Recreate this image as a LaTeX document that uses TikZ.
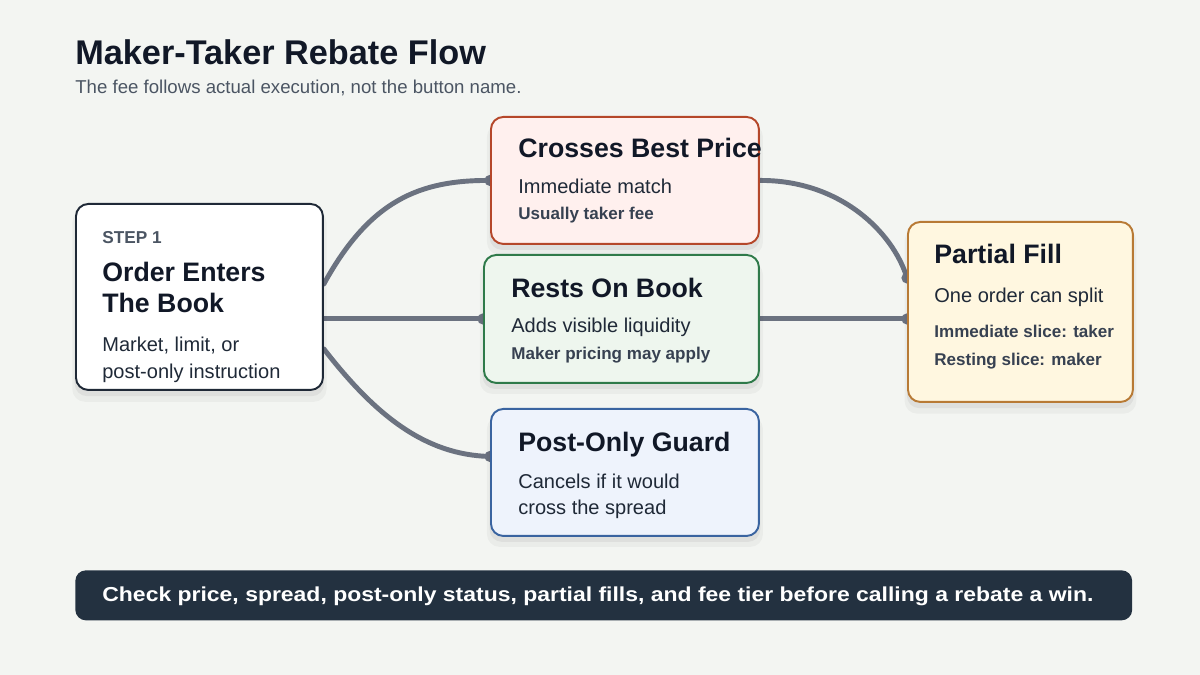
\documentclass[tikz,border=0pt]{standalone}
\usepackage{fontspec}
\setmainfont{Liberation Sans}
\usetikzlibrary{calc,shadows}
\definecolor{bgc}{HTML}{F3F5F2}
\definecolor{ink}{HTML}{111827}
\definecolor{sub}{HTML}{4B5563}
\definecolor{bodyc}{HTML}{1F2937}
\definecolor{smallc}{HTML}{374151}
\definecolor{connc}{HTML}{6B7280}
\definecolor{ordB}{HTML}{1F2937}
\definecolor{crossF}{HTML}{FFF0EE}
\definecolor{crossB}{HTML}{B5472A}
\definecolor{restF}{HTML}{EEF6EE}
\definecolor{restB}{HTML}{2F7A4A}
\definecolor{postF}{HTML}{EEF3FC}
\definecolor{postB}{HTML}{3A64A0}
\definecolor{partF}{HTML}{FFF7E0}
\definecolor{partB}{HTML}{B87A35}
\definecolor{footF}{HTML}{233140}
\pgfdeclarelayer{back}
\pgfdeclarelayer{lines}
\pgfsetlayers{back,lines,main}
\begin{document}
\begin{tikzpicture}[x=0.02cm,y=-0.02cm,
  box/.style={rounded corners=7pt, line width=1.1pt, anchor=north west, inner sep=0pt,
    drop shadow={shadow xshift=0pt, shadow yshift=-5pt, shadow scale=1.03, opacity=0.035, fill=black},
    drop shadow={shadow xshift=0pt, shadow yshift=-3pt, shadow scale=1.01, opacity=0.05, fill=black}},
  conn/.style={draw=connc, line width=2.8pt, line cap=round},
  dot/.style={fill=connc},
  txt/.style={anchor=base west, inner sep=0pt},
  ttl/.style={txt, font=\fontsize{19.5}{23}\selectfont\bfseries, text=ink},
  subt/.style={txt, font=\fontsize{10.6}{13}\selectfont, text=sub},
  head/.style={txt, font=\fontsize{15.2}{18}\selectfont\bfseries, text=ink},
  bodyt/.style={txt, font=\fontsize{11.4}{14}\selectfont, text=bodyc},
  smallt/.style={txt, font=\fontsize{9.7}{12}\selectfont\bfseries, text=smallc},
  stept/.style={txt, font=\fontsize{9.8}{12}\selectfont\bfseries, text=sub},
  foott/.style={txt, font=\fontsize{11.5}{13}\selectfont\bfseries, text=white, xscale=1.136}
]
\begin{pgfonlayer}{back}
\fill[bgc] (0,0) rectangle (1200,675);
\end{pgfonlayer}
\useasboundingbox (0,0) rectangle (1200,675);

% title
\node[ttl] (title) at (75,65) {Maker-Taker Rebate Flow};
\node[subt] (subtitle) at (75,94) {The fee follows actual execution, not the button name.};

% boxes
\node[box, draw=ordB, fill=white, minimum width=4.94cm, minimum height=3.72cm] (order) at (75,203) {};
\node[box, draw=crossB, fill=crossF, minimum width=5.36cm, minimum height=2.54cm] (cross) at (490,116) {};
\node[box, draw=restB, fill=restF, minimum width=5.5cm, minimum height=2.56cm] (rests) at (483,254) {};
\node[box, draw=postB, fill=postF, minimum width=5.36cm, minimum height=2.54cm] (post) at (490,408) {};
\node[box, draw=partB, fill=partF, minimum width=4.5cm, minimum height=3.6cm] (partial) at (907,221) {};

% connectors
\begin{pgfonlayer}{lines}
\draw[conn] ($(order.east)+(0,-13)$) .. controls (370,200) and (420,180) .. (cross.west);
\draw[conn] (order.east |- rests.west) -- (rests.west);
\draw[conn] ($(order.east)+(0,52)$) .. controls (375,415) and (425,455) .. ($(post.west)+(0,-16)$);
\draw[conn] (cross.east) .. controls (840,180) and (893,232) .. ($(partial.west)+(0,-34)$);
\draw[conn] (rests.east) -- (partial.west |- rests.east);
\fill[dot] (cross.west) circle (3.2pt);
\fill[dot] (rests.west) circle (3.2pt);
\fill[dot] ($(post.west)+(0,-16)$) circle (3.2pt);
\fill[dot] ($(partial.west)+(0,-34)$) circle (3.2pt);
\fill[dot] (partial.west |- rests.east) circle (3.2pt);
\end{pgfonlayer}

% order text
\node[stept] (o1) at (102,244) {STEP 1};
\node[head] (o2) at (102,282) {Order Enters};
\node[head] (o3) at (102,313) {The Book};
\node[bodyt] (o4) at (102,352) {Market, limit, or};
\node[bodyt] (o5) at (102,378) {post-only instruction};

% crosses text
\node[head] (c1) at (518,158) {Crosses Best Price};
\node[bodyt] (c2) at (518,194) {Immediate match};
\node[smallt] (c3) at (518,220) {Usually taker fee};

% rests text
\node[head] (r1) at (511,298) {Rests On Book};
\node[bodyt] (r2) at (511,333) {Adds visible liquidity};
\node[smallt] (r3) at (511,359) {Maker pricing may apply};

% post text
\node[head] (p1) at (518,451) {Post-Only Guard};
\node[bodyt] (p2) at (518,488) {Cancels if it would};
\node[bodyt] (p3) at (518,514) {cross the spread};

% partial text
\node[head] (f1) at (934,264) {Partial Fill};
\node[bodyt] (f2) at (934,303) {One order can split};
\node[smallt] (f3) at (934,338) {Immediate slice: taker};
\node[smallt] (f4) at (934,366) {Resting slice: maker};

% footer
\node[anchor=north west, fill=footF, rounded corners=6pt, minimum width=21.14cm, minimum height=1.0cm, inner sep=0pt] (footer) at (75,570) {};
\node[foott] (ft) at (102,601) {Check price, spread, post-only status, partial fills, and fee tier before calling a rebate a win.};
\end{tikzpicture}
\end{document}
